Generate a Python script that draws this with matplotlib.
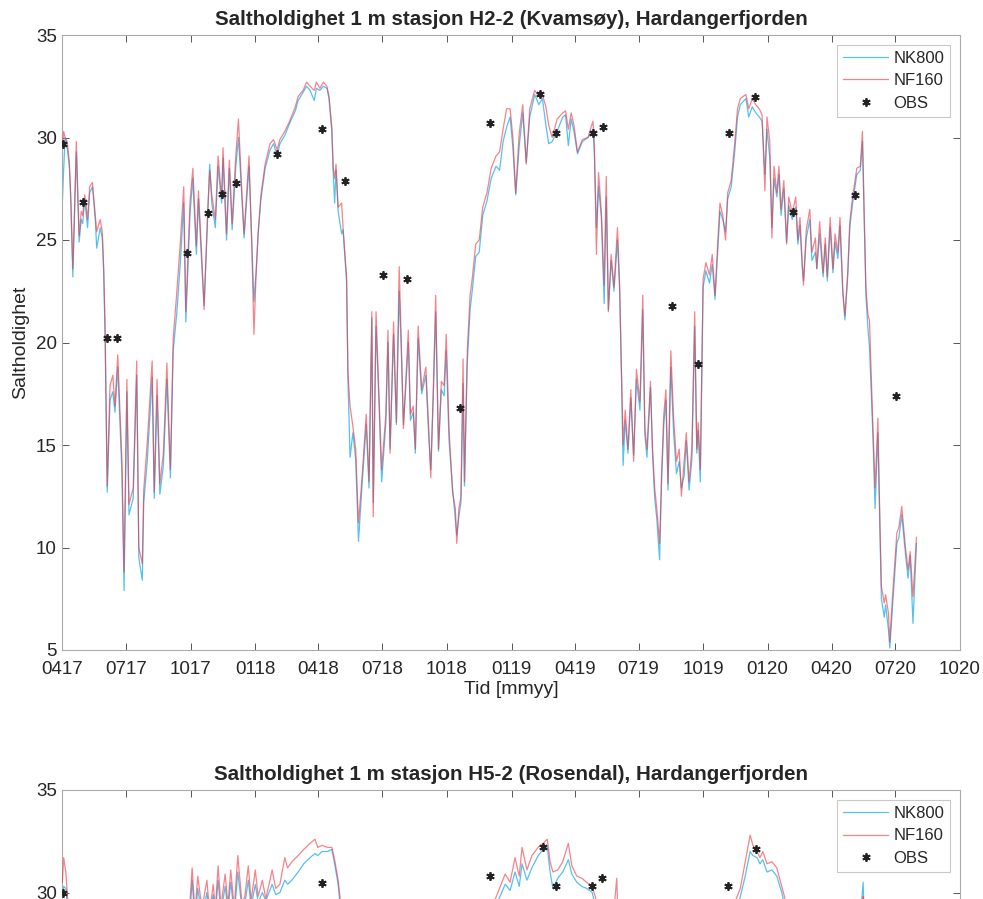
import matplotlib
matplotlib.use("Agg")
import matplotlib.pyplot as plt
import matplotlib.dates as mdates
import pandas as pd
import numpy as np

plt.rcParams['font.family'] = ['Liberation Sans', 'DejaVu Sans']

START = pd.Timestamp('2017-04-01')

# ---------------- Panel 1: H2-2 (Kvamsøy) ----------------
h2_days = [0, 2, 4, 7, 10, 12, 15, 20, 24, 27, 29, 32, 36, 39, 43, 47, 49, 54, 57, 59,
           61, 62, 64, 68, 72, 75, 79, 85, 88, 92, 95, 101, 106, 109, 114, 116, 121, 128, 131, 135,
           139, 144, 149, 154, 158,
           163, 168, 173, 176, 182, 186, 191, 194, 199, 202, 207, 210, 213, 218, 222, 227, 229, 234, 238, 242,
           247, 251, 256, 259, 266, 270, 273, 276, 279, 283, 289, 296, 301, 306, 310, 317, 324, 332, 336, 343,
           348, 353, 359, 362, 367, 372, 377, 380, 384, 386, 388, 390, 393, 398, 400, 405, 407,
           410, 414, 418, 422, 427, 433, 437, 441, 443, 447, 451, 455, 461, 464, 467, 472, 476, 480, 483,
           486, 490, 493, 496, 500, 503, 507, 512, 518, 522, 525, 529, 532, 536, 540, 544, 547, 551, 556,
           560, 562, 565, 568, 571, 573, 577, 581, 584, 589, 594, 599, 605, 611, 618, 623, 628, 633,
           638, 642, 646, 651, 656, 661, 666, 673, 679, 684, 689, 693, 698, 705, 713, 717, 721, 725, 729,
           734, 741, 749, 756, 758, 761, 764, 768, 772, 775, 778, 782, 786, 791, 794, 797, 799, 802, 806,
           810, 814, 818, 823, 827, 830, 833, 838, 841, 844, 847, 851, 854, 857, 860, 863, 867, 871, 875,
           879, 882, 886, 889, 893, 897, 901, 904, 906, 909, 913, 917, 922, 926, 930, 934, 937, 941, 945,
           948, 953, 958,
           962, 966, 974, 978, 983, 988, 993, 997, 1001, 1004, 1008, 1011, 1014, 1018, 1021, 1024, 1028,
           1032, 1035, 1040, 1045, 1048, 1051, 1054, 1056, 1060, 1065, 1068, 1073, 1075, 1079, 1084, 1087,
           1090, 1094, 1098, 1101, 1105, 1108, 1112, 1115, 1119, 1122, 1126, 1132, 1137, 1140, 1143, 1145,
           1148, 1150, 1155, 1158, 1162, 1165, 1167, 1171, 1173, 1177, 1179, 1183, 1189, 1192, 1196, 1201,
           1205, 1208, 1212, 1217]

h2_nf160 = [29.6, 30.3, 30.0, 29.8, 28.8, 27.2, 23.6, 29.8, 25.2, 26.4, 26.2, 27.2, 26.0, 27.6, 27.8, 26.2, 25.4, 26.0, 25.4, 23.6,
            20.6, 17.8, 13.0, 17.9, 18.4, 16.9, 19.4, 14.2, 8.8, 18.2, 12.1, 12.9, 19.1, 10.0, 9.2, 12.8, 15.1, 19.1, 12.7, 18.2,
            13.1, 14.6, 19.0, 13.8, 20.2,
            22.4, 24.8, 27.6, 21.5, 26.9, 28.5, 24.7, 27.4, 24.0, 21.6, 26.3, 28.4, 27.2, 26.0, 29.1, 27.0, 29.5, 25.3, 28.9, 25.8,
            29.0, 30.9, 27.2, 25.3, 29.1, 24.8, 20.4, 23.2, 25.3, 27.2, 28.7, 29.7, 29.9, 29.4, 29.9, 30.3, 30.8, 31.5, 32.0, 32.3,
            32.7, 32.5, 32.3, 32.7, 32.4, 32.7, 32.5, 32.0, 30.5, 28.5, 28.0, 28.7, 26.6, 26.8, 25.6, 23.2, 18.5,
            16.9, 15.9, 14.8, 11.2, 13.4, 16.5, 13.2, 21.5, 11.5, 21.5, 17.7, 13.8, 16.5, 20.6, 14.6, 21.0, 16.1, 23.7, 20.0,
            15.8, 18.5, 20.6, 16.5, 16.9, 14.8, 20.8, 17.7, 18.8, 15.8, 13.4, 18.3, 22.3, 14.8, 18.1, 17.9, 20.4, 15.8, 12.7,
            11.9, 10.2, 11.9, 12.5, 19.2, 13.2, 19.6, 22.3, 23.1, 24.8, 25.0, 26.6, 27.3, 28.5, 29.1, 29.3, 30.4, 31.4,
            31.4, 30.0, 27.3, 30.2, 31.6, 28.7, 31.4, 32.3, 32.0, 32.1, 31.5, 30.6, 30.0, 30.9, 31.2, 31.3, 30.4, 31.2, 30.6,
            29.3, 29.9, 30.0, 30.8, 29.7, 24.3, 28.3, 26.4, 22.8, 28.1, 21.5, 24.3, 22.7, 25.6, 22.9, 18.1, 15.0, 16.7, 14.8,
            17.7, 14.2, 18.7, 17.1, 22.3, 15.8, 14.8, 18.1, 14.8, 12.9, 11.9, 10.2, 13.8, 16.5, 17.7, 13.1, 19.6, 16.3, 14.2,
            14.8, 12.5, 14.2, 15.6, 13.2, 14.8, 21.5, 14.8, 16.1, 13.8, 23.1, 23.9, 23.3, 24.3, 22.3, 25.0, 26.8, 26.2, 25.0,
            27.3, 27.9, 29.7,
            31.4, 31.9, 32.1, 31.4, 31.9, 31.6, 31.4, 31.1, 27.4, 31.0, 29.8, 25.1, 28.6, 27.3, 28.6, 26.5, 27.9,
            24.8, 27.1, 26.3, 27.1, 25.0, 26.1, 24.0, 22.8, 25.5, 26.5, 24.4, 25.1, 23.6, 25.9, 23.4, 25.1,
            23.2, 26.1, 23.6, 25.3, 24.4, 26.1, 22.6, 21.3, 23.4, 25.9, 27.1, 28.5, 28.6, 30.3, 25.5, 22.6,
            21.3, 21.1, 15.8, 12.9, 16.3, 11.0, 8.1, 7.3, 7.7, 6.8, 5.4, 7.7, 10.7, 11.0, 12.0, 10.1,
            8.9, 9.8, 7.6, 10.5]

h2_nk800 = [26.8, 28.5, 30.0, 29.5, 28.6, 27.0, 23.2, 29.3, 24.9, 26.0, 25.8, 27.0, 25.6, 27.3, 27.6, 26.0, 24.6, 25.6, 25.1, 23.4,
            20.4, 18.0, 12.7, 17.2, 17.6, 16.6, 18.8, 13.6, 7.9, 17.6, 11.6, 12.4, 18.4, 9.5, 8.4, 12.2, 14.2, 18.3, 12.4, 17.4,
            12.6, 14.0, 18.2, 13.4, 19.6,
            21.4, 23.8, 26.8, 21.0, 26.3, 28.0, 24.3, 27.0, 23.6, 21.8, 26.0, 28.7, 26.8, 25.6, 28.6, 26.8, 29.0, 25.0, 28.5, 25.5,
            28.5, 30.0, 27.0, 25.1, 28.6, 24.8, 22.0, 23.4, 25.3, 27.0, 28.5, 29.4, 29.7, 29.1, 29.7, 30.1, 30.7, 31.3, 31.8, 32.2,
            32.5, 32.3, 31.8, 32.4, 32.3, 32.5, 32.4, 31.9, 30.3, 28.3, 26.8, 28.4, 26.4, 25.3, 25.5, 23.0, 18.2,
            14.4, 15.6, 14.3, 10.3, 13.0, 16.0, 12.9, 21.2, 12.2, 20.8, 17.2, 13.2, 16.1, 20.0, 14.8, 20.4, 16.0, 22.5, 19.6,
            16.0, 18.2, 20.0, 16.2, 16.6, 14.6, 20.2, 17.5, 18.4, 15.5, 13.8, 17.8, 21.5, 14.7, 17.7, 17.4, 19.6, 15.2, 12.9,
            11.4, 10.6, 11.5, 12.2, 18.0, 13.0, 19.0, 21.6, 22.5, 24.2, 24.4, 26.2, 26.9, 28.0, 28.6, 28.4, 29.8, 30.5,
            31.0, 29.5, 27.2, 29.6, 31.2, 28.8, 31.0, 32.1, 31.6, 31.9, 30.6, 29.7, 29.8, 30.3, 31.0, 31.1, 29.6, 30.9, 30.3,
            29.2, 29.8, 30.0, 30.4, 29.3, 25.6, 27.6, 26.1, 21.9, 27.1, 21.6, 24.0, 22.5, 25.0, 22.6, 17.8, 14.0, 16.2, 14.6,
            17.3, 14.5, 18.2, 16.7, 21.6, 15.5, 14.4, 17.8, 14.5, 12.4, 11.4, 9.4, 13.4, 16.0, 17.2, 12.8, 18.8, 15.6, 13.6,
            14.2, 12.9, 13.5, 15.2, 12.8, 14.3, 20.8, 14.6, 15.7, 13.2, 22.7, 23.5, 22.9, 23.8, 22.1, 24.6, 26.4, 26.0, 25.4,
            27.0, 27.6, 29.3,
            31.0, 31.6, 31.9, 31.0, 31.5, 31.2, 31.0, 30.8, 28.2, 30.4, 29.0, 25.6, 28.0, 27.1, 28.2, 26.2, 27.5,
            24.9, 26.7, 26.0, 26.6, 24.8, 25.7, 23.8, 23.0, 25.1, 26.0, 24.0, 24.4, 23.6, 25.3, 23.2, 24.8,
            23.0, 25.6, 23.4, 24.9, 24.1, 25.7, 22.4, 21.1, 23.2, 25.6, 26.8, 28.2, 28.4, 29.8, 25.4, 22.3,
            20.6, 19.8, 15.4, 11.9, 15.6, 10.6, 7.5, 6.6, 7.2, 6.0, 5.1, 7.2, 10.2, 10.5, 11.6, 9.8,
            8.5, 9.6, 6.3, 10.2]

h2_obs_days = [1, 29, 64, 78, 178, 207, 228, 247, 306, 370, 403, 457, 491, 567, 609, 681, 703,
               756, 771, 869, 906, 950, 987, 1041, 1130, 1188]
h2_obs = [29.7, 26.85, 20.2, 20.2, 24.35, 26.3, 27.25, 27.8, 29.2, 30.4, 27.9, 23.3, 23.1, 16.8,
          30.7, 32.1, 30.2, 30.2, 30.5, 21.8, 18.95, 30.2, 32.0, 26.35, 27.2, 17.4]

# ---------------- Panel 2: H5-2 (Rosendal) ----------------
h5_days = [0, 2, 5, 8, 14, 25, 47, 68, 96, 125, 153, 171, 176, 180, 185, 189, 193, 199, 206, 210,
           215, 218, 222, 226, 232, 236, 240, 245, 250, 256, 260, 265, 269, 275, 279, 285, 290, 299, 304, 310,
           317, 321, 327, 336, 344, 353, 360, 364, 370, 378, 384, 388, 393, 398, 407, 424, 453, 481, 510, 538,
           567, 588, 602, 616, 631, 638, 645, 651, 655, 662, 669, 678, 685, 691, 695, 699, 706, 713, 721, 726,
           733, 740, 747, 755, 762, 773, 783, 790, 794, 823, 852, 880, 909, 937, 958, 966, 973, 980, 984, 990,
           994, 998, 1004, 1011, 1018, 1025, 1032, 1051, 1080, 1108, 1134, 1141, 1145, 1165, 1194, 1218]

h5_nf160 = [30.5, 31.7, 31.0, 29.5, 27.0, 24.0, 20.0, 15.0, 12.0, 16.0, 22.0, 27.0, 29.0, 28.5, 31.2, 29.0, 30.8, 29.2, 30.6, 29.0,
            30.4, 29.2, 31.3, 29.3, 30.9, 29.4, 31.1, 29.2, 31.8, 29.5, 29.8, 31.3, 29.6, 31.1, 29.8, 30.6, 29.7, 31.1, 30.2, 30.4,
            31.7, 31.2, 31.5, 31.8, 32.1, 32.4, 32.6, 32.2, 32.3, 32.2, 32.2, 31.6, 30.6, 29.0, 24.0, 18.0, 20.0, 18.0, 20.0, 17.0,
            15.0, 24.0, 28.5, 29.6, 30.9, 30.5, 31.7, 30.8, 32.2, 31.1, 31.8, 32.2, 32.4, 32.6, 31.5, 31.0, 31.1, 31.5, 32.4, 31.3,
            30.8, 30.7, 30.5, 30.3, 29.5, 28.5, 28.0, 30.7, 26.0, 19.0, 14.0, 17.0, 20.0, 26.0, 29.5, 30.2, 31.5, 32.8, 32.3, 32.0,
            31.7, 32.0, 31.4, 31.5, 31.2, 30.3, 29.4, 28.0, 27.0, 26.5, 28.0, 29.8, 27.0, 14.0, 10.0, 11.0]

h5_nk800 = [29.8, 30.3, 30.2, 29.0, 26.5, 23.5, 19.0, 14.0, 11.0, 15.0, 21.0, 26.0, 28.0, 28.0, 30.6, 28.6, 30.2, 28.8, 30.0, 28.7,
            29.9, 28.9, 30.6, 29.0, 30.3, 29.1, 30.5, 28.9, 31.0, 29.2, 29.4, 30.6, 29.3, 30.4, 29.5, 30.0, 29.6, 30.4, 29.9, 30.0,
            30.6, 30.4, 30.6, 31.0, 31.4, 31.7, 31.9, 31.8, 32.0, 32.0, 32.1, 31.4, 30.4, 28.6, 23.0, 16.5, 19.0, 17.0, 19.0, 16.0,
            14.0, 23.0, 28.0, 29.2, 30.4, 30.1, 31.0, 30.3, 31.4, 30.6, 31.2, 31.8, 32.1, 32.2, 31.0, 30.2, 30.7, 31.0, 31.6, 30.9,
            30.5, 30.3, 30.2, 30.0, 29.0, 28.0, 27.3, 29.5, 25.0, 18.0, 13.0, 16.0, 19.0, 25.0, 29.0, 29.8, 30.8, 32.0, 31.8, 31.7,
            31.4, 31.6, 31.0, 31.1, 30.8, 30.0, 29.0, 27.5, 26.5, 26.0, 27.5, 30.5, 26.0, 13.0, 9.0, 10.0]

h5_obs_days = [1, 68, 196, 370, 481, 609, 685, 703, 755, 769, 852, 948, 988, 1137, 1187]
h5_obs = [30.0, 21.0, 27.5, 30.45, 23.0, 30.8, 32.2, 30.3, 30.3, 30.7, 20.0, 30.3, 32.1, 27.0, 16.0]

titles = ['Saltholdighet 1 m stasjon H2-2 (Kvamsøy), Hardangerfjorden',
          'Saltholdighet 1 m stasjon H5-2 (Rosendal), Hardangerfjorden']
series_names = ['NK800', 'NF160', 'OBS']
y_ticks = [5, 10, 15, 20, 25, 30, 35]

C_NK = '#4DBEEE'
C_NF = '#F0303C'
TXT = '#262626'


def to_dates(d):
    return START + pd.to_timedelta(np.asarray(d, dtype=float), unit='D')


W, H = 983, 899
fig = plt.figure(figsize=(W / 100, H / 100), dpi=100)

ax_w = (960 - 62.3) / W
ax_h = (650 - 35) / H
axes_bottoms = [((899 - 650) / H), ((899 - 790) / H - ax_h)]

panels = [
    (h2_days, h2_nk800, h2_nf160, h2_obs_days, h2_obs),
    (h5_days, h5_nk800, h5_nf160, h5_obs_days, h5_obs),
]

for k, (bottom, pdata) in enumerate(zip(axes_bottoms, panels)):
    d, nk, nf, od, ob = pdata
    ax = fig.add_axes([62.3 / W, bottom, ax_w, ax_h])
    x = to_dates(d)
    ax.plot(x, nk, color=C_NK, lw=0.9, alpha=0.95, label=series_names[0], zorder=2)
    ax.plot(x, nf, color=C_NF, lw=0.9, alpha=0.6, label=series_names[1], zorder=3)
    ax.plot(to_dates(od), ob, linestyle='none', marker=(6, 2, 0), color='#222222',
            markeredgecolor='#222222', markeredgewidth=1.3, markersize=6,
            label=series_names[2], zorder=4)
    ax.set_xlim(pd.Timestamp('2017-04-01'), pd.Timestamp('2020-10-01'))
    ax.set_ylim(5, 35)
    ax.set_yticks(y_ticks)
    ax.xaxis.set_major_locator(mdates.MonthLocator(bymonth=[1, 4, 7, 10]))
    ax.xaxis.set_major_formatter(mdates.DateFormatter('%m%y'))
    ax.tick_params(direction='in', length=5, width=0.7, colors='#555555',
                   labelcolor=TXT, labelsize=13.5, top=True, right=True, pad=4)
    ax.tick_params(axis='x', pad=8)
    for s in ax.spines.values():
        s.set_color('#aaaaaa')
        s.set_linewidth(0.8)
    ax.set_title(titles[k], fontsize=14.8, fontweight='bold', color=TXT, pad=7)
    if k == 0:
        ax.set_xlabel('Tid [mmyy]', fontsize=14, color=TXT, labelpad=2)
        ax.set_ylabel('Saltholdighet', fontsize=14, color=TXT, labelpad=5)
    else:
        # lower panel runs off the bottom of the image: only its upper part is shown
        ax.tick_params(axis='x', labelbottom=False)
        ax.set_yticklabels([str(v) if v >= 30 else '' for v in y_ticks])
    leg = ax.legend(loc='upper right', fontsize=12, frameon=True, fancybox=False,
                    edgecolor='#bbbbbb', handlelength=2.7, borderaxespad=0.6,
                    labelspacing=0.45, handletextpad=0.3, borderpad=0.35)
    leg.get_frame().set_linewidth(0.8)
    for t in leg.get_texts():
        t.set_color(TXT)

fig.savefig('out.png', dpi=100)
